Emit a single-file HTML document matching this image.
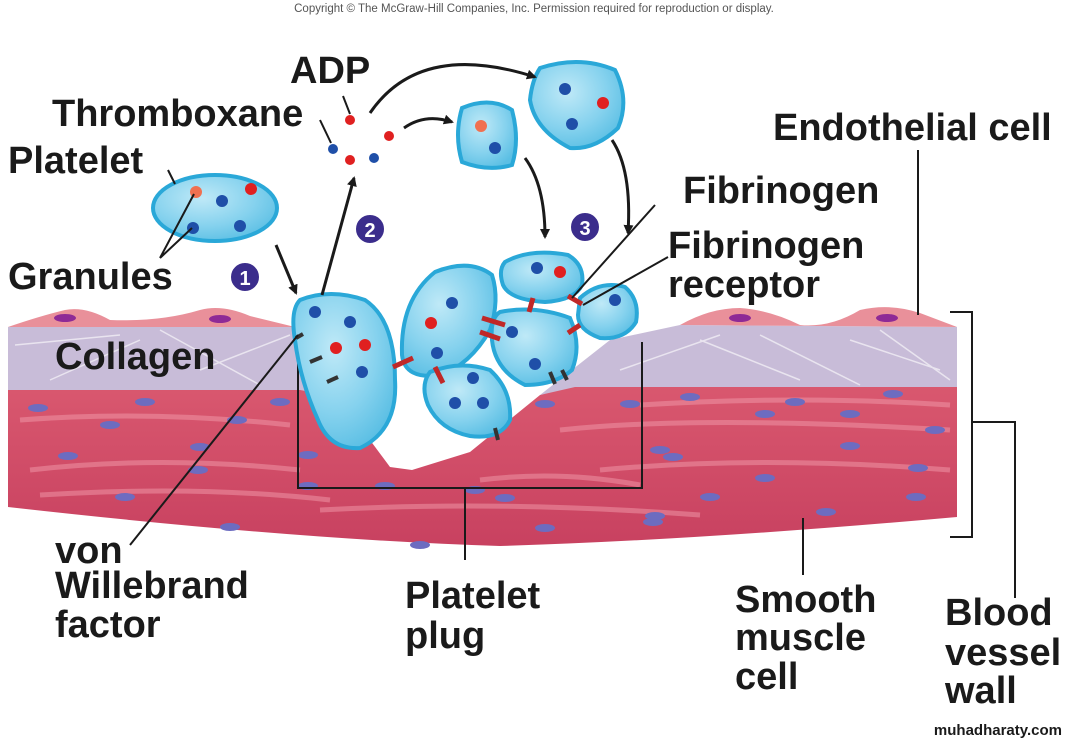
<!DOCTYPE html>
<html><head><meta charset="utf-8"><style>
html,body{margin:0;padding:0;background:#fff;}
svg{display:block}
text{font-family:"Liberation Sans",sans-serif;font-weight:bold;fill:#1a1a1a}
</style></head><body>
<svg width="1068" height="742" viewBox="0 0 1068 742" xmlns="http://www.w3.org/2000/svg">
<defs>
<radialGradient id="pg" cx="40%" cy="35%" r="70%">
<stop offset="0" stop-color="#bfe9f7"/><stop offset="0.6" stop-color="#86d2ee"/><stop offset="1" stop-color="#5bbfe4"/>
</radialGradient>
<linearGradient id="mg" x1="0" y1="0" x2="0" y2="1">
<stop offset="0" stop-color="#d9586f"/><stop offset="1" stop-color="#c84160"/>
</linearGradient>
<marker id="ah" markerWidth="10" markerHeight="10" refX="8" refY="5" orient="auto" markerUnits="userSpaceOnUse">
<path d="M0,0 L10,5 L0,10 z" fill="#1a1a1a"/>
</marker>
</defs>

<text x="534" y="12" font-size="11.5" text-anchor="middle" style="font-weight:normal;fill:#555">Copyright © The McGraw-Hill Companies, Inc. Permission required for reproduction or display.</text>

<!-- muscle -->
<path d="M8,388 L300,388 L338,397 L390,467 L412,470 L470,452 L540,395 L575,385 L957,385 L957,517 Q700,540 500,546 Q300,540 8,507 Z" fill="url(#mg)"/>
<g stroke="#f29bab" stroke-width="5" opacity="0.5" fill="none">
<path d="M20,420 Q150,410 290,425"/><path d="M30,470 Q160,455 300,470"/><path d="M40,495 Q200,485 330,500"/>
<path d="M560,430 Q700,415 950,430"/><path d="M600,470 Q760,455 950,470"/><path d="M320,510 Q500,500 700,515"/>
<path d="M640,405 Q800,395 950,405"/><path d="M480,480 Q560,470 640,485"/>
</g>
<!-- collagen -->
<path d="M8,327 L295,327 L338,397 L300,390 L8,390 Z" fill="#c8bcd8"/>
<path d="M575,387 L540,395 L610,340 L680,325 L957,327 L957,387 Z" fill="#c8bcd8"/>
<g stroke="#fff" stroke-width="1.5" opacity="0.6">
<path d="M15,345 L120,335 M50,380 L140,340 M160,330 L260,385 M200,370 L290,335 M700,340 L800,380 M760,335 L860,385 M850,340 L940,370 M620,370 L720,335 M880,330 L950,380"/>
</g>
<!-- endothelium -->
<path d="M8,327 Q40,316 65,310 Q85,306 110,320 Q160,322 200,310 Q222,304 250,316 L295,327 Z" fill="#e9909a"/>
<path d="M680,325 Q710,308 740,308 Q770,310 800,325 Q830,328 860,310 Q890,303 920,313 L957,327 Z" fill="#e9909a"/>
<g fill="#8e2a96">
<ellipse cx="65" cy="318" rx="11" ry="4"/><ellipse cx="220" cy="319" rx="11" ry="4"/>
<ellipse cx="740" cy="318" rx="11" ry="4"/><ellipse cx="887" cy="318" rx="11" ry="4"/>
</g>
<!-- nuclei -->
<g fill="#6d6cc0">
<ellipse cx="38" cy="408" rx="10" ry="4"/><ellipse cx="145" cy="402" rx="10" ry="4"/><ellipse cx="280" cy="402" rx="10" ry="4"/>
<ellipse cx="110" cy="425" rx="10" ry="4"/><ellipse cx="237" cy="420" rx="10" ry="4"/><ellipse cx="68" cy="456" rx="10" ry="4"/>
<ellipse cx="200" cy="447" rx="10" ry="4"/><ellipse cx="198" cy="470" rx="10" ry="4"/><ellipse cx="125" cy="497" rx="10" ry="4"/>
<ellipse cx="230" cy="527" rx="10" ry="4"/><ellipse cx="308" cy="455" rx="10" ry="4"/><ellipse cx="308" cy="486" rx="10" ry="4"/>
<ellipse cx="385" cy="486" rx="10" ry="4"/><ellipse cx="420" cy="545" rx="10" ry="4"/><ellipse cx="505" cy="498" rx="10" ry="4"/>
<ellipse cx="545" cy="404" rx="10" ry="4"/><ellipse cx="630" cy="404" rx="10" ry="4"/><ellipse cx="660" cy="450" rx="10" ry="4"/>
<ellipse cx="545" cy="528" rx="10" ry="4"/><ellipse cx="690" cy="397" rx="10" ry="4"/><ellipse cx="795" cy="402" rx="10" ry="4"/>
<ellipse cx="893" cy="394" rx="10" ry="4"/><ellipse cx="673" cy="457" rx="10" ry="4"/><ellipse cx="765" cy="414" rx="10" ry="4"/>
<ellipse cx="850" cy="414" rx="10" ry="4"/><ellipse cx="935" cy="430" rx="10" ry="4"/><ellipse cx="850" cy="446" rx="10" ry="4"/>
<ellipse cx="765" cy="478" rx="10" ry="4"/><ellipse cx="918" cy="468" rx="10" ry="4"/><ellipse cx="710" cy="497" rx="10" ry="4"/>
<ellipse cx="916" cy="497" rx="10" ry="4"/><ellipse cx="826" cy="512" rx="10" ry="4"/><ellipse cx="653" cy="522" rx="10" ry="4"/>
<ellipse cx="475" cy="490" rx="10" ry="4"/><ellipse cx="655" cy="516" rx="10" ry="4"/>
</g>

<!-- bracket platelet plug -->
<path d="M298,338 L298,488 L642,488 L642,342 M465,488 L465,560" stroke="#1a1a1a" stroke-width="2" fill="none"/>
<!-- vessel wall brackets -->
<path d="M950,312 L972,312 L972,537 L950,537 M972,422 L1015,422 L1015,598" stroke="#1a1a1a" stroke-width="2" fill="none"/>
<path d="M803,518 L803,575" stroke="#1a1a1a" stroke-width="2"/>
<path d="M918,150 L918,315" stroke="#1a1a1a" stroke-width="2"/>

<!-- platelets -->
<g fill="url(#pg)" stroke="#2aa8d8" stroke-width="4">
<ellipse cx="215" cy="208" rx="62" ry="33"/>
<path d="M300,300 Q330,288 365,300 Q395,320 395,380 Q398,430 360,448 Q330,450 318,420 Q300,380 295,340 Q290,310 300,300 Z"/>
<path d="M435,272 Q470,258 492,275 Q500,300 490,330 Q470,365 440,375 Q405,380 402,355 Q400,300 435,272 Z"/>
<path d="M430,372 Q460,360 490,370 Q512,390 510,420 Q500,440 470,436 Q440,430 428,405 Q420,385 430,372 Z"/>
<path d="M500,312 Q535,305 570,318 Q582,345 572,370 Q555,385 525,385 Q495,370 492,340 Q490,318 500,312 Z"/>
<path d="M505,262 Q530,248 568,255 Q585,265 582,285 Q575,300 545,302 Q510,300 503,285 Q498,270 505,262 Z"/>
<path d="M580,298 Q600,280 625,287 Q640,300 636,322 Q625,340 600,338 Q578,330 578,315 Z"/>
<path d="M462,108 Q490,96 512,110 Q520,140 512,165 Q488,172 462,162 Q454,135 462,108 Z"/>
<path d="M540,68 Q580,55 615,70 Q630,100 618,128 Q595,150 570,148 Q535,130 530,100 Q532,80 540,68 Z"/>
</g>
<!-- granules -->
<g fill="#e02020">
<circle cx="196" cy="192" r="6" fill="#f07050"/><circle cx="251" cy="189" r="6"/>
<circle cx="336" cy="348" r="6"/><circle cx="365" cy="345" r="6"/><circle cx="431" cy="323" r="6"/>
<circle cx="560" cy="272" r="6"/><circle cx="481" cy="126" r="6" fill="#f07050"/><circle cx="603" cy="103" r="6"/>
<circle cx="350" cy="120" r="5"/><circle cx="350" cy="160" r="5"/><circle cx="389" cy="136" r="5"/>
</g>
<g fill="#1f4fa8">
<circle cx="222" cy="201" r="6"/><circle cx="193" cy="228" r="6"/><circle cx="240" cy="226" r="6"/>
<circle cx="315" cy="312" r="6"/><circle cx="350" cy="322" r="6"/><circle cx="362" cy="372" r="6"/>
<circle cx="452" cy="303" r="6"/><circle cx="437" cy="353" r="6"/><circle cx="473" cy="378" r="6"/>
<circle cx="455" cy="403" r="6"/><circle cx="483" cy="403" r="6"/><circle cx="512" cy="332" r="6"/>
<circle cx="535" cy="364" r="6"/><circle cx="537" cy="268" r="6"/><circle cx="615" cy="300" r="6"/>
<circle cx="495" cy="148" r="6"/><circle cx="572" cy="124" r="6"/><circle cx="565" cy="89" r="6"/>
<circle cx="333" cy="149" r="5"/><circle cx="374" cy="158" r="5"/>
</g>
<!-- fibrinogen bridges -->
<g stroke="#c02828" stroke-width="5">
<path d="M393,367 L413,358"/><path d="M435,367 L443,383"/><path d="M482,318 L505,325"/><path d="M480,332 L500,339"/>
<path d="M533,298 L529,312"/><path d="M568,296 L582,304"/><path d="M568,333 L580,325"/>
</g>
<g stroke="#333" stroke-width="4">
<path d="M310,362 L322,357"/><path d="M327,382 L338,377"/><path d="M495,428 L498,440"/><path d="M550,372 L555,384"/><path d="M562,370 L567,380"/><path d="M296,338 L303,334"/>
</g>

<!-- arrows -->
<g stroke="#1a1a1a" stroke-width="3" fill="none" marker-end="url(#ah)">
<path d="M276,245 L296,293"/>
<path d="M322,295 L354,178"/>
<path d="M370,113 Q420,40 535,77"/>
<path d="M404,128 Q425,113 452,122"/>
<path d="M525,158 Q545,185 545,237"/>
<path d="M612,140 Q632,170 628,233"/>
</g>
<g stroke="#1a1a1a" stroke-width="2" fill="none">
<path d="M343,96 L350,114"/><path d="M320,120 L331,143"/>
<path d="M168,170 L175,184"/><path d="M160,258 L194,194 M160,258 L192,228"/>
<path d="M298,335 L130,545"/>
<path d="M655,205 L572,298 M668,257 L583,305"/>
</g>

<!-- numbers -->
<g font-size="20">
<circle cx="245" cy="277" r="15" fill="#3b2d8c" stroke="#fff" stroke-width="2"/><text x="245" y="285" text-anchor="middle" style="fill:#fff">1</text>
<circle cx="370" cy="229" r="15" fill="#3b2d8c" stroke="#fff" stroke-width="2"/><text x="370" y="237" text-anchor="middle" style="fill:#fff">2</text>
<circle cx="585" cy="227" r="15" fill="#3b2d8c" stroke="#fff" stroke-width="2"/><text x="585" y="235" text-anchor="middle" style="fill:#fff">3</text>
</g>

<!-- labels -->
<g font-size="38">
<text x="290" y="83">ADP</text>
<text x="52" y="126">Thromboxane</text>
<text x="8" y="173">Platelet</text>
<text x="8" y="289">Granules</text>
<text x="55" y="369">Collagen</text>
<text x="773" y="140">Endothelial cell</text>
<text x="683" y="203">Fibrinogen</text>
<text x="668" y="258">Fibrinogen</text>
<text x="668" y="297">receptor</text>
<text x="55" y="563">von</text>
<text x="55" y="598">Willebrand</text>
<text x="55" y="637">factor</text>
<text x="405" y="608">Platelet</text>
<text x="405" y="648">plug</text>
<text x="735" y="612">Smooth</text>
<text x="735" y="650">muscle</text>
<text x="735" y="689">cell</text>
<text x="945" y="625">Blood</text>
<text x="945" y="665">vessel</text>
<text x="945" y="703">wall</text>
</g>
<text x="1062" y="735" font-size="15" text-anchor="end">muhadharaty.com</text>
</svg>
</body></html>
